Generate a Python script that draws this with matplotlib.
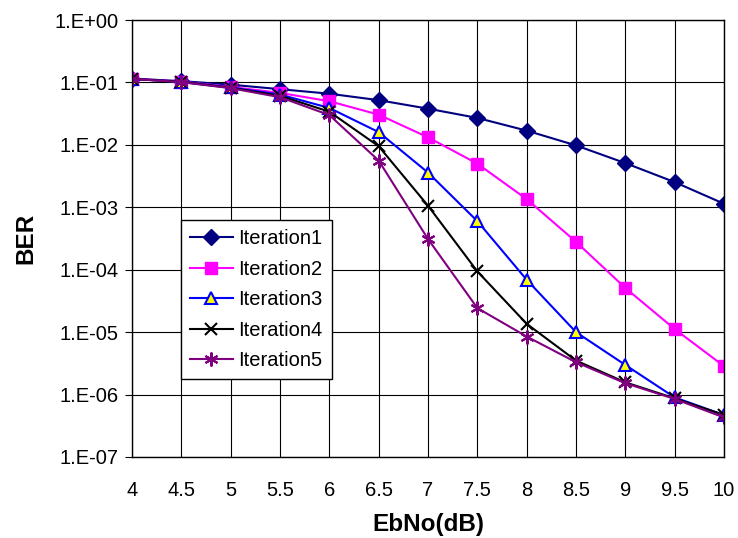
import matplotlib
matplotlib.use('Agg')
import matplotlib.pyplot as plt
from matplotlib.ticker import FixedLocator, FuncFormatter
import numpy as np

plt.rcParams['font.family'] = ['Liberation Sans', 'DejaVu Sans']

#### data
ebno = [4, 4.5, 5, 5.5, 6, 6.5, 7, 7.5, 8, 8.5, 9, 9.5, 10]
iter1 = [0.115, 0.105, 0.092, 0.078, 0.066, 0.052, 0.038, 0.027, 0.0169, 0.0098, 0.0051, 0.00253, 0.00114]
iter2 = [0.115, 0.103, 0.085, 0.068, 0.050, 0.0305, 0.0132, 0.0050, 0.00135, 0.00028, 5.1e-5, 1.12e-5, 2.85e-6]
iter3 = [0.114, 0.102, 0.083, 0.064, 0.039, 0.0160, 0.0036, 0.0006, 6.9e-5, 1.0e-5, 2.98e-6, 9.0e-7, 4.7e-7]
iter4 = [0.114, 0.102, 0.082, 0.061, 0.034, 0.0095, 0.00106, 9.4e-5, 1.36e-5, 3.5e-6, 1.57e-6, 8.7e-7, 4.7e-7]
iter5 = [0.114, 0.101, 0.081, 0.058, 0.030, 0.0056, 0.00031, 2.43e-5, 8.5e-6, 3.3e-6, 1.52e-6, 8.5e-7, 4.3e-7]
labels = ['Iteration1', 'Iteration2', 'Iteration3', 'Iteration4', 'Iteration5']

fig = plt.figure(figsize=(7.38, 5.38), dpi=100)
ax = fig.add_axes([0.1789, 0.1506, 0.8021, 0.8122])

asterisk = (6, 2, 0)
ax.plot(ebno, iter1, color='#000080', marker='D', ms=8, mfc='#000080', mec='#000080', lw=1.5, label=labels[0])
ax.plot(ebno, iter2, color='#FF00FF', marker='s', ms=8, mfc='#FF00FF', mec='#FF00FF', lw=1.5, label=labels[1])
ax.plot(ebno, iter3, color='#0000FF', marker='^', ms=8, mfc='#FFFF00', mec='#0000FF', mew=1.5, lw=1.5, label=labels[2])
ax.plot(ebno, iter4, color='black', marker='x', ms=9, mec='black', mew=1.5, lw=1.5, label=labels[3])
ax.plot(ebno, iter5, color='#800080', marker=asterisk, ms=10, mec='#800080', mew=1.5, lw=1.5, label=labels[4])

ax.set_yscale('log')
ax.set_ylim(1e-7, 1)
ax.set_xlim(4, 10)
ax.xaxis.set_major_locator(FixedLocator(ebno))
ax.xaxis.set_major_formatter(FuncFormatter(lambda v, p: ('%g' % v)))
ax.yaxis.set_major_locator(FixedLocator([10.0 ** k for k in range(-7, 1)]))
ax.yaxis.set_minor_locator(FixedLocator([]))
ax.yaxis.set_major_formatter(FuncFormatter(lambda v, p: '1.E%+03d' % int(round(np.log10(v)))))

ax.grid(True, color='black', lw=0.8)
ax.set_axisbelow(True)
for s in ax.spines.values():
    s.set_color('black')
    s.set_linewidth(1.0)
ax.tick_params(axis='both', labelsize=14.5, colors='black', length=5, direction='out')
ax.tick_params(axis='x', length=0, pad=17)
ax.tick_params(axis='y', pad=5)

ax.set_xlabel('EbNo(dB)', fontsize=17.5, fontweight='bold', labelpad=10)
ax.set_ylabel('BER', fontsize=17.5, fontweight='bold', labelpad=12)

leg = ax.legend(loc='upper left', bbox_to_anchor=(0.083, 0.542), fontsize=14.5,
                frameon=True, fancybox=False, edgecolor='black', framealpha=1,
                handlelength=2.1, borderpad=0.45, labelspacing=0.57, handletextpad=0.3,
                borderaxespad=0)
leg.get_frame().set_linewidth(1.0)

fig.savefig('out.png', dpi=100, facecolor='white')
